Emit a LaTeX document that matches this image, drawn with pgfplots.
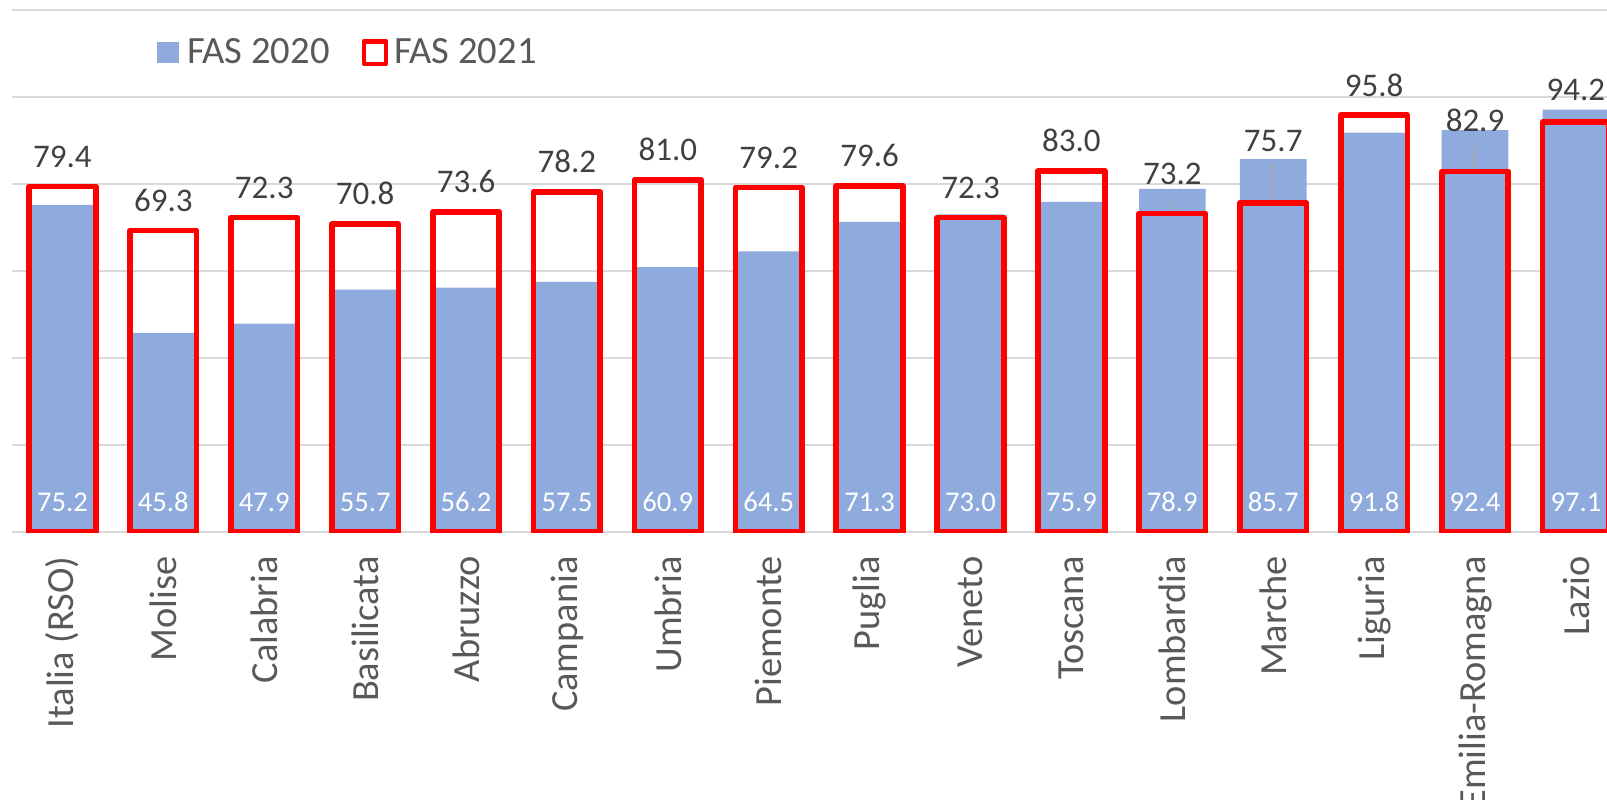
\documentclass[border=0pt]{standalone}
\usepackage{pgfplots}
\pgfplotsset{compat=1.18}
\usepackage{pgfplotstable}
\usepackage{fontspec}
\setmainfont{Carlito}
\definecolor{b20}{HTML}{8FAADC}
\definecolor{r21}{HTML}{FF0000}
\definecolor{gridc}{HTML}{D9D9D9}
\definecolor{lab}{HTML}{404040}
\definecolor{cat}{HTML}{595959}
\definecolor{lead}{HTML}{A6A6A6}

\pgfplotstableread{
x blue red lab in
0 75.2 79.4 83.8 4.67
1 45.8 69.3 73.7 4.67
2 47.9 72.3 76.7 4.67
3 55.7 70.8 75.2 4.67
4 56.2 73.6 78.0 4.67
5 57.5 78.2 82.6 4.67
6 60.9 81.0 85.4 4.67
7 64.5 79.2 83.6 4.67
8 71.3 79.6 84.0 4.67
9 73.0 72.3 76.7 4.67
10 75.9 83.0 87.4 4.67
11 78.9 73.2 79.8 4.67
12 85.7 75.7 87.4 4.67
13 91.8 95.8 100.2 4.67
14 92.4 82.9 92.0 4.67
15 97.1 94.2 99.1 4.67
}\data

\begin{document}
\begin{tikzpicture}
\path[use as bounding box] (0pt,0pt) rectangle (803.5pt,-399.5pt);
\begin{scope}[overlay]
\clip (0pt,0pt) rectangle (803.5pt,-399.5pt);
\begin{axis}[
  at={(6pt,-266pt)}, anchor=south west,
  scale only axis, width=797.5pt, height=261pt,
  xmin=-0.5, xmax=15.308, ymin=0, ymax=120,
  axis line style={draw=none},
  ytick={0,20,...,120}, yticklabels={},
  ymajorgrids, major grid style={gridc, line width=0.7pt},
  major tick length=0pt,
  xtick={0,...,15},
  xticklabels={Italia (RSO),Molise,Calabria,Basilicata,Abruzzo,Campania,Umbria,Piemonte,Puglia,Veneto,Toscana,Lombardia,Marche,Liguria,Emilia-Romagna,Lazio},
  xticklabel style={rotate=90, anchor=east, inner sep=0pt, font=\fontsize{19.2}{19.2}\selectfont, text=cat},
  xticklabel shift=12pt,
  bar width=0.66,
  legend columns=2,
  legend style={at={(0.0907,0.9186)}, anchor=west, draw=none, fill=none, inner sep=0pt,
    font=\fontsize{19.3}{19.3}\selectfont, text=cat,
    /tikz/every even column/.append style={column sep=14pt}},
  legend cell align=left,
]
\addplot[ybar, bar shift=0pt, fill=b20, draw=none,
  legend image code/.code={\fill[b20] (0pt,-5.4pt) rectangle (10.8pt,5.4pt);\path[draw=none,fill=none] (0pt,0pt) -- (13pt,0pt);}]
  table[x=x, y=blue]{\data};
\addlegendentry{FAS 2020}
\addplot[ybar, bar shift=0pt, fill=none, draw=r21, line width=2.85pt, line join=round,
  legend image code/.code={\draw[r21, line width=2.2pt, line join=round] (1.1pt,-5.6pt) rectangle (12.3pt,5.6pt);\path[draw=none,fill=none] (0pt,0pt) -- (14.2pt,0pt);}]
  table[x=x, y=red]{\data};
\addlegendentry{FAS 2021}
% leader lines
\addplot[lead, line width=0.75pt, forget plot] coordinates {(11,73.9) (11,77.0)};
\addplot[lead, line width=0.75pt, forget plot] coordinates {(12,76.4) (12,84.8)};
\addplot[lead, line width=0.75pt, forget plot] coordinates {(14,83.6) (14,88.7)};
% top labels (FAS 2021)
\addplot[forget plot, only marks, mark=*, mark size=0pt, mark options={draw=none, fill=none},
  point meta=explicit symbolic, nodes near coords,
  every node near coord/.append style={anchor=base, inner sep=0pt, text=lab, font=\fontsize{16.5}{16.5}\selectfont}]
  table[x=x, y=lab, meta=red]{\data};
% inner labels (FAS 2020)
\addplot[forget plot, only marks, mark=*, mark size=0pt, mark options={draw=none, fill=none},
  point meta=explicit symbolic, nodes near coords,
  every node near coord/.append style={anchor=base, inner sep=0pt, text=white, font=\fontsize{14.3}{14.3}\selectfont}]
  table[x=x, y=in, meta=blue]{\data};
\end{axis}
\end{scope}
\end{tikzpicture}
\end{document}
